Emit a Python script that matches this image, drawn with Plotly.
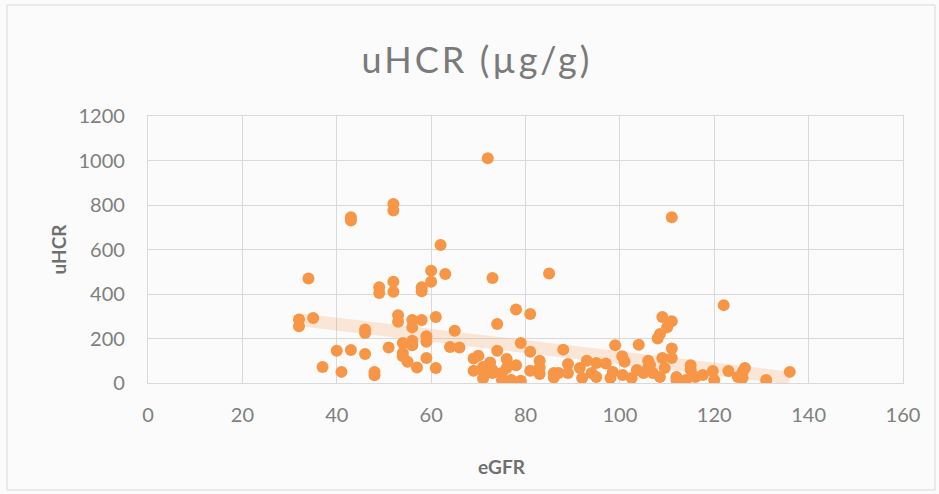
import plotly.graph_objects as go

# eGFR vs urinary HCR measurements
egfr = [32, 32, 34, 35, 37, 40, 41, 43, 43, 43, 46, 46, 46, 48, 48, 49, 49, 51,
        52, 52, 52, 52, 53, 53, 54, 54, 54, 55, 56, 56, 56, 56, 57, 58, 58, 58,
        59, 59, 59, 60, 60, 61, 61, 62, 63, 64, 65, 66, 69, 69, 70, 71, 71, 71,
        72, 72.5, 73, 73, 73, 74, 74, 75, 75, 76, 76, 77, 78, 78, 79, 79, 81, 81,
        81, 83, 83, 83, 85, 86, 86, 87, 88, 89, 89, 91.5, 92, 93, 94, 95, 95, 97,
        98, 98.5, 99, 100.5, 101, 100.6, 102.5, 103.6, 104, 105, 106, 106, 106.4,
        107, 108, 108.5, 108.5, 109, 109, 109.5, 110, 111, 111, 111, 111, 112,
        112, 114, 115, 115, 116, 117.6, 119.7, 120, 122, 123, 125, 126, 126,
        126.5, 131, 136]
uhcr = [285, 255, 470, 292, 72, 145, 50, 745, 730, 148, 240, 225, 130, 50, 35,
        430, 405, 160, 805, 775, 455, 410, 305, 275, 180, 135, 120, 95, 283, 250,
        190, 170, 70, 430, 412, 283, 210, 185, 112, 505, 455, 297, 67, 620, 490,
        162, 235, 160, 110, 55, 122, 20, 72, 55, 1010, 92, 472, 58, 45, 265, 145,
        45, 15, 108, 67, 13, 330, 80, 180, 10, 310, 140, 55, 100, 70, 40, 492, 25,
        45, 45, 150, 85, 45, 67, 22, 100, 45, 90, 27, 88, 22, 50, 170, 120, 95,
        36, 22, 58, 172, 45, 67, 100, 81, 45, 200, 220, 27, 297, 112, 67, 250,
        278, 745, 155, 112, 13, 27, 13, 80, 60, 27, 36, 54, 13, 350, 54, 27, 50,
        22, 67, 13, 50]

# linear trendline end points over the observed eGFR span
trend_x = [32, 136]
trend_y = [285, 22]

x_ticks = [0, 20, 40, 60, 80, 100, 120, 140, 160]
y_ticks = [0, 200, 400, 600, 800, 1000, 1200]

W, H = 939, 494
ML, MR, MT, MB = 148, 36, 116, 111
PW, PH = W - ML - MR, H - MT - MB

ORANGE = "#F79646"
GRID = "#d9d9d9"
TXT = "#7f7f7f"
FONT = "Lato"

fig = go.Figure()
fig.add_trace(go.Scatter(
    x=trend_x, y=trend_y, mode="lines",
    line=dict(color="rgba(247,150,70,0.2)", width=13),
    hoverinfo="skip", showlegend=False,
))
fig.add_trace(go.Scatter(
    x=egfr, y=uhcr, mode="markers",
    marker=dict(color=ORANGE, size=12, line=dict(width=0)),
    showlegend=False,
))

axis_common = dict(
    showgrid=True, gridcolor=GRID, gridwidth=1.3,
    showline=True, linecolor=GRID, linewidth=1.3, mirror=True,
    zeroline=False, ticks="outside", tickcolor="rgba(0,0,0,0)",
    tickfont=dict(family=FONT, size=20, color=TXT),
    fixedrange=True,
)
fig.update_xaxes(range=[0, 160], tickvals=x_ticks, ticklen=14, **axis_common)
fig.update_yaxes(range=[0, 1200], tickvals=y_ticks, ticklen=18, **axis_common)

# outer chart border, expressed in plot-area paper units
fig.add_shape(
    type="rect", xref="paper", yref="paper",
    x0=(7 - ML) / PW, x1=(935 - ML) / PW,
    y0=-(490 - MT - PH) / PH, y1=1 + (MT - 5) / PH,
    line=dict(color="#d9d9d9", width=1), layer="below",
)

fig.add_annotation(
    text="eGFR", xref="paper", yref="paper",
    x=(502 - ML) / PW, y=-(467 - MT - PH) / PH,
    showarrow=False, font=dict(family=FONT, size=19, color="#707070", weight="bold"),
    xanchor="center", yanchor="middle",
)
fig.add_annotation(
    text="uHCR", xref="paper", yref="paper",
    x=(58 - ML) / PW, y=0.5, textangle=-90,
    showarrow=False, font=dict(family=FONT, size=19, color="#707070", weight="bold"),
    xanchor="center", yanchor="middle",
)

fig.update_layout(
    width=W, height=H,
    margin=dict(l=ML, r=MR, t=MT, b=MB),
    paper_bgcolor="#fbfbfb", plot_bgcolor="rgba(0,0,0,0)",
    title=dict(
        text="<span style='letter-spacing:3px'>uHCR (µg/g)</span>",
        x=477 / W, y=1 - 60 / H,
        xref="container", yref="container",
        xanchor="center", yanchor="middle",
        font=dict(family=FONT, size=36, color="#7a7a7a"),
    ),
)

fig.write_html("out.html")
